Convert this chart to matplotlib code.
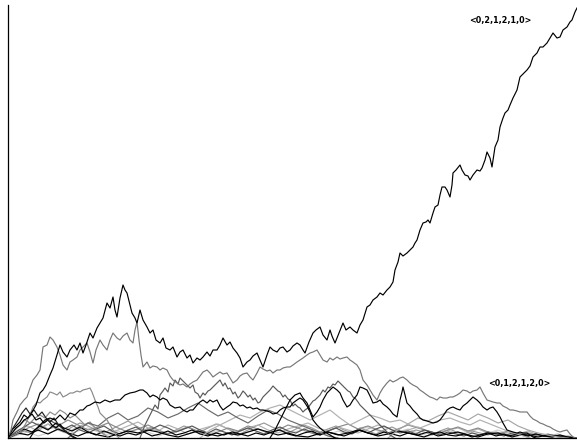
import matplotlib
matplotlib.use("Agg")
import matplotlib.pyplot as plt

# --- random-walk excursions: (step, level) samples ---
walk_a = [(0,0),(4,5),(8,10),(12,13),(16,18),(20,20),(24,26),(28,33),(32,45),(35,48),(38,53),(42,63),(45,70),(48,80),
          (52,93),(55,86),(59,81),(62,88),(66,93),(69,88),(72,95),(75,85),(78,93),(82,105),(85,100),(89,110),(92,115),
          (95,120),(99,135),(102,130),(105,141),(107,128),(109,121),(112,140),(115,153),(117,148),(119,145),(122,133),
          (124,125),(127,120),(129,115),(132,128),(135,118),(139,111),(142,105),(145,108),(148,98),(152,95),(155,100),
          (158,90),(162,88),(165,91),(169,81),(172,86),(175,88),(179,80),(182,83),(185,75),(189,80),(192,78),(195,81),
          (199,86),(202,82),(205,88),(209,88),(212,93),(215,100),(219,93),(222,96),(225,90),(229,85),(232,80),(235,71),
          (239,76),(242,78),(245,82),(249,85),(252,78),(255,71),(259,83),(262,91),(265,88),(269,86),(272,90),(275,91),
          (279,86),(282,88),(285,92),(289,95),(292,93),(295,88),(297,85),(301,96),(305,105),(308,108),(312,111),(315,103),
          (319,98),(322,108),(324,102),(327,95),(331,105),(335,115),(338,108),(342,111),(345,108),(349,105),(352,113),
          (355,118),(359,131),(362,133),(365,138),(369,141),(372,145),(375,143),(379,148),(382,151),(385,156),(387,168),
          (390,176),(392,185),(395,182),(399,185),(402,188),(405,191),(407,195),(409,198),(412,208),(415,215),(418,216),
          (420,218),(422,215),(425,225),(427,231),(430,233),(432,243),(434,251),(437,251),(439,248),(442,241),(444,253),
          (445,265),(448,268),(452,273),(454,268),(457,263),(460,262),(462,258),(465,263),(469,268),(472,267),(474,270),
          (477,278),(479,286),(482,280),(484,271),(487,291),(490,298),(492,311),(495,320),(497,325),(500,328),(502,333),
          (505,340),(509,348),(512,361),(515,364),(519,368),(522,372),(525,381),(529,385),(532,391),(535,391),(539,395),
          (542,400),(545,405),(549,400),(552,401),(555,408),(559,411),(562,416),(564,418),(567,426),(569,430)]

walk_b = [(0,0),(3,8),(5,18),(9,26),(12,33),(16,38),(19,41),(22,50),(25,58),(29,63),(32,68),(34,83),(35,91),(39,93),
          (42,101),(45,98),(49,91),(52,83),(55,73),(59,68),(62,76),(65,78),(69,81),(72,88),(76,92),(79,95),(82,86),(85,75),
          (88,88),(92,98),(95,93),(99,88),(102,98),(105,105),(109,100),(112,98),(115,102),(119,105),(122,98),(125,95),
          (127,108),(129,116),(131,98),(133,83),(135,71),(139,76),(142,70),(145,72),(149,71),(152,68),(155,70),(159,68),
          (162,62),(165,58),(169,55),(172,53),(175,54),(179,51),(182,54),(185,56),(189,58),(192,62),(195,66),(199,68),
          (202,65),(205,61),(209,64),(212,66),(215,64),(219,65),(222,60),(225,55),(229,58),(232,62),(235,64),(239,65),
          (242,61),(245,58),(249,65),(252,71),(255,69),(259,67),(262,68),(265,65),(269,68),(272,68),(275,70),(279,71),
          (282,71),(285,73),(289,76),(292,78),(295,80),(299,83),(302,85),(305,86),(309,88),(312,83),(315,78),(319,76),
          (322,80),(325,78),(329,81),(332,79),(335,80),(339,81),(342,78),(345,76),(349,73),(352,68),(355,58),(359,53),
          (362,48),(365,43),(369,38),(372,45),(375,50),(379,55),(382,58),(385,56),(389,58),(392,60),(395,61),(399,58),
          (402,55),(405,53),(409,51),(412,48),(415,46),(419,43),(422,41),(425,40),(429,38),(432,41),(435,40),(439,40),
          (442,41),(445,41),(449,43),(452,45),(455,48),(459,47),(462,45),(465,47),(469,48),(472,51),(475,45),(479,38),
          (482,37),(485,36),(489,35),(492,35),(495,32),(499,30),(502,28),(505,28),(509,27),(512,26),(515,26),(519,26),
          (522,22),(525,19),(529,17),(532,15),(535,14),(539,12),(542,11),(545,9),(549,7),(552,6),(555,7),(559,8),(562,4),
          (565,1),(568,0)]

walk_c = [(0,0),(6,3),(12,6),(17,13),(22,23),(25,31),(29,36),(32,35),(35,38),(39,41),(42,46),(45,45),(49,43),(52,46),
          (55,41),(59,43),(62,45),(65,45),(69,47),(72,46),(75,48),(79,49),(82,50),(84,46),(87,38),(90,31),(92,25),(96,21),
          (99,18),(102,13),(105,8),(108,3),(111,0)]

walk_e = [(22,0),(27,8),(32,13),(37,18),(42,20),(47,18),(52,23),(57,18),(62,25),(67,23),(72,28),(75,28),(79,32),(82,33),
          (87,36),(92,35),(97,38),(102,36),(107,38),(112,38),(117,43),(122,45),(127,46),(132,48),(135,48),(139,45),(142,41),
          (145,43),(149,41),(152,38),(155,40),(159,38),(162,33),(167,30),(172,31),(175,28),(179,26),(182,28),(185,28),
          (189,33),(192,36),(195,38),(199,35),(202,38),(205,36),(209,38),(212,32),(215,28),(219,31),(222,33),(225,36),
          (229,35),(232,32),(235,33),(239,30),(242,31),(245,29),(249,30),(252,28),(255,28),(259,27),(262,26),(265,24),
          (269,25),(272,28),(275,30),(279,31),(282,31),(285,35),(289,38),(292,40),(295,38),(299,32),(302,26),(305,18),
          (309,13),(312,10),(317,6),(322,3),(327,0)]

walk_f = [(262,0),(267,8),(272,18),(277,28),(282,38),(287,43),(292,45),(295,40),(299,35),(302,28),(305,21),(309,26),
          (312,31),(315,38),(319,45),(322,48),(325,51),(329,48),(332,45),(335,38),(339,31),(342,33),(345,38),(349,43),
          (352,51),(355,50),(359,48),(362,42),(365,35),(369,36),(372,38),(375,34),(379,31),(382,28),(385,24),(389,21),
          (392,38),(394,46),(395,51),(397,43),(399,35),(402,32),(405,28),(409,24),(412,20),(415,18),(419,17),(422,16),
          (425,15),(429,16),(432,18),(435,22),(439,28),(442,30),(445,31),(449,29),(452,28),(455,32),(459,35),(462,38),
          (465,41),(469,38),(472,35),(475,31),(479,28),(482,30),(485,31),(489,26),(492,21),(495,15),(499,8),(502,7),
          (505,6),(509,5),(512,6),(515,5),(519,5),(522,3),(525,1),(528,0)]

walk_g = [(132,0),(137,13),(142,23),(147,33),(150,29),(152,43),(155,47),(157,50),(160,46),(162,55),(165,52),(167,58),
          (170,54),(172,60),(175,57),(177,55),(180,52),(182,50),(185,53),(187,46),(190,44),(192,40),(195,45),(197,43),
          (200,47),(202,48),(205,51),(207,53),(210,56),(212,58),(215,52),(217,55),(220,49),(222,50),(225,44),(227,46),
          (230,40),(232,42),(235,47),(237,45),(240,41),(242,43),(245,38),(247,40),(250,35),(252,36),(255,41),(257,43),
          (260,46),(262,48),(265,52),(267,50),(270,47),(272,46),(275,41),(277,43),(280,39),(282,38),(285,32),(287,34),
          (290,31),(292,30),(295,26),(297,28),(300,30),(302,33),(305,37),(307,38),(310,41),(312,43),(315,48),(317,46),
          (320,51),(322,50),(325,54),(327,53),(330,57),(332,55),(335,52),(337,50),(340,47),(342,46),(345,41),(347,40),
          (350,36),(352,33),(355,30),(357,28),(362,23),(367,18),(372,13),(377,8),(382,3),(387,0)]

walk_h = [(192,0),(202,8),(212,13),(222,18),(232,23),(242,20),(252,26),(262,30),(272,33),(282,28),(292,23),(302,18),
          (312,23),(322,28),(332,20),(342,13),(352,18),(362,23),(372,20),(382,16),(392,18),(402,13),(412,10),(422,14),
          (432,18),(442,20),(452,16),(462,13),(472,18),(482,14),(492,10),(502,6),(512,3),(522,0)]

walk_i = [(0,0),(7,8),(12,13),(17,18),(22,15),(27,20),(32,23),(37,20),(42,26),(47,23),(52,28),(57,25),(62,20),(67,23),
          (72,18),(77,13),(82,16),(87,10),(92,6),(97,3),(102,0)]

walk_j = [(0,0),(4,8),(8,12),(12,16),(16,23),(20,20),(24,24),(28,18),(32,20),(36,15),(40,18),(44,13),(48,10),(52,14),
          (56,8),(60,5),(64,2),(68,0)]

walk_k = [(0,0),(5,10),(10,18),(14,25),(18,30),(22,24),(26,28),(30,22),(34,26),(38,20),(42,16),(46,20),(50,14),
          (54,10),(58,6),(62,3),(66,0)]

walk_p = [(60,0),(70,8),(80,15),(90,12),(100,20),(110,25),(120,18),(130,22),(140,30),(150,26),(160,20),(170,24),
          (180,30),(190,35),(200,28),(210,22),(220,26),(230,20),(240,15),(250,22),(260,28),(270,24),(280,18),(290,14),
          (300,10),(310,6),(320,2),(330,0)]

walk_q = [(380,0),(390,8),(400,14),(410,20),(420,17),(430,22),(440,26),(450,22),(460,18),(470,24),(480,20),(490,15),
          (500,18),(510,12),(520,8),(530,5),(540,3),(550,1),(560,0)]

# short excursions that hug the axis
band_steps = list(range(0, 570, 10))
band_k = [0,5,3,8,4,9,5,2,6,3, 1,4,7,5,8,6,3,1,4,7, 4,2,5,3,6,9,6,3,5,2,
          1,4,6,3,5,8,5,2,4,7, 5,3,6,2,4,6,3,1,4,5, 2,4,3,1,3,2,0]
band_l = [0,8,12,7,14,10,6,11,15,9, 5,8,12,16,10,7,13,9,4,8, 11,14,9,6,10,13,8,5,9,12,
          15,10,7,11,8,5,9,13,10,6, 8,11,7,4,8,10,6,9,5,3, 6,4,7,3,2,4,0]
band_m = [0,4,10,14,9,12,18,13,8,11, 15,10,6,9,13,8,4,7,11,6, 3,6,10,7,12,9,5,8,13,10,
          6,3,7,11,14,9,12,8,5,9, 13,10,7,4,8,11,7,10,6,4, 7,3,5,2,4,1,0]
band_n = [0,3,6,2,5,8,4,7,10,6, 3,7,4,9,6,2,5,8,11,7, 4,8,5,2,6,9,5,8,4,7,
          10,6,3,7,4,8,11,7,4,6, 9,5,2,6,8,4,7,3,5,8, 4,2,5,3,1,2,0]

fine_steps = list(range(0, 570, 8))
fine_r = [0,4,9,6,12,8,15,10,7,11, 6,3,7,4,2,5,3,6,2,4, 7,3,5,8,4,2,5,3,6,4,
          2,5,3,6,8,4,2,5,7,3, 6,4,2,5,8,5,3,6,4,2, 5,3,1,4,6,3,2,4,1,3,
          5,2,4,1,3,2,4,2,1,3, 1,0]
fine_s = [0,6,11,16,12,19,14,9,13,8, 5,9,12,7,4,8,11,6,9,13, 10,6,9,12,8,5,9,6,3,7,
          10,7,4,8,11,7,5,9,6,3, 7,10,6,4,8,5,9,12,8,5, 7,4,8,6,3,6,4,2,5,3,
          6,4,2,5,3,2,4,2,1,2, 1,0]
fine_u = [0,3,7,5,10,14,9,6,11,15, 12,8,5,9,13,17,12,8,11,7, 4,8,12,9,6,10,14,11,7,4,
          8,12,15,11,8,5,9,13,10,6, 9,12,8,5,10,7,4,8,11,7, 5,8,6,3,7,10,6,4,7,5,
          3,6,4,2,5,3,4,2,3,1, 2,0]

top_label = "<0,2,1,2,1,0>"
low_label = "<0,1,2,1,2,0>"

fig = plt.figure(figsize=(5.77, 4.40), dpi=100)
ax = fig.add_axes([8/577, 2/440, 569/577, 433/440])

lw = 0.85
for steps, vals, col in [(band_steps, band_n, "#cfcfcf"), (fine_steps, fine_u, "#9a9a9a"),
                         (band_steps, band_l, "#b2b2b2"), (band_steps, band_m, "#8a8a8a"),
                         (fine_steps, fine_s, "#555555"), (band_steps, band_k, "#000000"),
                         (fine_steps, fine_r, "#000000")]:
    ax.plot(steps, vals, color=col, lw=lw)

for walk, col in [(walk_q, "#a6a6a6"), (walk_h, "#b0b0b0"), (walk_i, "#8c8c8c"), (walk_p, "#6a6a6a"),
                  (walk_j, "#000000"), (walk_k, "#222222"), (walk_c, "#8a8a8a"), (walk_g, "#5a5a5a"),
                  (walk_e, "#000000"), (walk_f, "#000000"), (walk_b, "#777777"), (walk_a, "#000000")]:
    t, v = zip(*walk)
    ax.plot(t, v, color=col, lw=lw)

ax.text(492, 417, top_label, fontsize=5.8, fontweight="bold", ha="center", va="center")
ax.text(511, 55, low_label, fontsize=5.8, fontweight="bold", ha="center", va="center")

ax.set_xlim(0, 569)
ax.set_ylim(0, 433)
ax.set_xticks([])
ax.set_yticks([])
for side in ("top", "right"):
    ax.spines[side].set_visible(False)
for side in ("left", "bottom"):
    ax.spines[side].set_linewidth(0.9)

fig.savefig("out.png", dpi=100)
